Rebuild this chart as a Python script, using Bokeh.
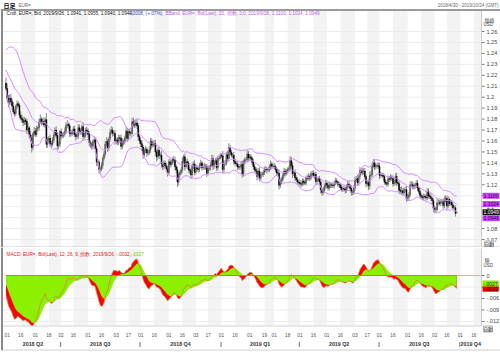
import numpy as np
import pandas as pd
from bokeh.plotting import figure
from bokeh.models import ColumnDataSource, Range1d, Label, BoxAnnotation
from bokeh.core.properties import value
from bokeh.layouts import column
from bokeh.embed import file_html
from bokeh.resources import INLINE

# ---------------- data (EUR= daily, business days) ----------------
warmup_close = [  # 2018-02-26 .. 2018-04-27 (feeds the indicators only)
    1.2320, 1.2230, 1.2195, 1.2270, 1.2315,
    1.2335, 1.2410, 1.2410, 1.2310, 1.2305,
    1.2335, 1.2390, 1.2370, 1.2305, 1.2290,
    1.2335, 1.2240, 1.2345, 1.2300, 1.2350,
    1.2450, 1.2405, 1.2305, 1.2320, 1.2325,
    1.2300, 1.2270, 1.2275, 1.2240, 1.2280,
    1.2320, 1.2355, 1.2370, 1.2325, 1.2330,
    1.2380, 1.2370, 1.2375, 1.2345, 1.2285,
    1.2210, 1.2235, 1.2165, 1.2100, 1.2130,
]
first_date = "2018-04-30"
close = [  # 2018-04-30 .. 2019-09-26, one row per week
    1.2080, 1.1990, 1.1950, 1.1990, 1.1960,
    1.1920, 1.1865, 1.1850, 1.1915, 1.1940,
    1.1925, 1.1835, 1.1810, 1.1795, 1.1770,
    1.1790, 1.1780, 1.1700, 1.1720, 1.1655,
    1.1625, 1.1540, 1.1665, 1.1690, 1.1660,
    1.1715, 1.1720, 1.1775, 1.1800, 1.1770,
    1.1780, 1.1745, 1.1795, 1.1570, 1.1610,
    1.1625, 1.1575, 1.1570, 1.1605, 1.1655,
    1.1700, 1.1650, 1.1555, 1.1570, 1.1685,
    1.1645, 1.1655, 1.1660, 1.1690, 1.1745,
    1.1750, 1.1740, 1.1670, 1.1665, 1.1685,
    1.1710, 1.1660, 1.1640, 1.1645, 1.1720,
    1.1690, 1.1685, 1.1730, 1.1640, 1.1655,
    1.1700, 1.1690, 1.1660, 1.1585, 1.1565,
    1.1550, 1.1595, 1.1610, 1.1530, 1.1410,
    1.1405, 1.1340, 1.1345, 1.1375, 1.1440,
    1.1480, 1.1570, 1.1595, 1.1535, 1.1620,
    1.1680, 1.1700, 1.1670, 1.1670, 1.1600,
    1.1610, 1.1585, 1.1630, 1.1625, 1.1550,
    1.1595, 1.1590, 1.1625, 1.1690, 1.1625,
    1.1685, 1.1675, 1.1670, 1.1775, 1.1750,
    1.1745, 1.1765, 1.1740, 1.1640, 1.1605,
    1.1575, 1.1545, 1.1475, 1.1510, 1.1525,
    1.1490, 1.1490, 1.1520, 1.1595, 1.1560,
    1.1580, 1.1575, 1.1500, 1.1455, 1.1515,
    1.1465, 1.1470, 1.1390, 1.1365, 1.1400,
    1.1370, 1.1345, 1.1310, 1.1410, 1.1385,
    1.1405, 1.1430, 1.1425, 1.1365, 1.1335,
    1.1225, 1.1290, 1.1310, 1.1335, 1.1415,
    1.1455, 1.1365, 1.1410, 1.1400, 1.1340,
    1.1330, 1.1290, 1.1370, 1.1390, 1.1315,
    1.1355, 1.1345, 1.1340, 1.1375, 1.1400,
    1.1355, 1.1365, 1.1370, 1.1365, 1.1305,
    1.1350, 1.1360, 1.1380, 1.1440, 1.1370,
    1.1410, 1.1420, 1.1355, 1.1440, 1.1445,
    1.1470, 1.1465, 1.1340, 1.1395, 1.1395,
    1.1475, 1.1440, 1.1540, 1.1500, 1.1470,
    1.1470, 1.1415, 1.1395, 1.1390, 1.1365,
    1.1360, 1.1365, 1.1385, 1.1300, 1.1410,
    1.1430, 1.1430, 1.1480, 1.1445, 1.1455,
    1.1440, 1.1405, 1.1365, 1.1340, 1.1325,
    1.1275, 1.1325, 1.1260, 1.1295, 1.1295,
    1.1310, 1.1340, 1.1340, 1.1335, 1.1335,
    1.1360, 1.1390, 1.1370, 1.1370, 1.1365,
    1.1340, 1.1310, 1.1305, 1.1195, 1.1235,
    1.1245, 1.1285, 1.1325, 1.1305, 1.1325,
    1.1340, 1.1350, 1.1420, 1.1375, 1.1300,
    1.1310, 1.1265, 1.1245, 1.1225, 1.1220,
    1.1210, 1.1205, 1.1235, 1.1220, 1.1215,
    1.1265, 1.1260, 1.1275, 1.1260, 1.1300,
    1.1305, 1.1285, 1.1295, 1.1230, 1.1245,
    1.1255, 1.1225, 1.1155, 1.1130, 1.1150,
    1.1185, 1.1215, 1.1195, 1.1170, 1.1200,
    1.1200, 1.1195, 1.1190, 1.1215, 1.1235,
    1.1225, 1.1205, 1.1200, 1.1175, 1.1160,
    1.1165, 1.1160, 1.1150, 1.1180, 1.1205,
    1.1190, 1.1165, 1.1130, 1.1130, 1.1170,
    1.1245, 1.1255, 1.1220, 1.1275, 1.1330,
    1.1310, 1.1325, 1.1325, 1.1275, 1.1210,
    1.1220, 1.1190, 1.1285, 1.1290, 1.1370,
    1.1400, 1.1365, 1.1370, 1.1375, 1.1370,
    1.1285, 1.1290, 1.1285, 1.1275, 1.1225,
    1.1215, 1.1205, 1.1255, 1.1250, 1.1270,
    1.1260, 1.1210, 1.1225, 1.1275, 1.1220,
    1.1210, 1.1150, 1.1140, 1.1145, 1.1125,
    1.1155, 1.1155, 1.1075, 1.1085, 1.1110,
    1.1200, 1.1200, 1.1190, 1.1180, 1.1200,
    1.1215, 1.1170, 1.1140, 1.1105, 1.1090,
    1.1080, 1.1095, 1.1090, 1.1080, 1.1140,
    1.1100, 1.1090, 1.1075, 1.1055, 1.0985,
    1.0970, 1.0975, 1.1035, 1.1035, 1.1030,
    1.1045, 1.1045, 1.1010, 1.1060, 1.1075,
    1.1005, 1.1065, 1.1030, 1.1040, 1.1015,
    1.0990, 1.0990, 1.0940, 1.0949,
]
last_open = 1.0941
hi_pips = [  # high above max(open, close), in pips
    50, 45, 30, 35, 40,  30, 35, 25, 20, 30,  25, 20, 35, 30, 25,  30, 20, 25, 40, 20,
    35, 30, 15, 40, 30,  25, 20, 30, 45, 20,  30, 35, 20, 60, 25,  20, 35, 25, 30, 20,
    25, 35, 30, 25, 15,  30, 25, 20, 35, 25,  40, 20, 25, 30, 20,  25, 30, 20, 25, 35,
    30, 25, 20, 40, 25,  20, 30, 25, 30, 20,  25, 20, 35, 20, 25,  30, 25, 20, 30, 20,
    25, 30, 40, 25, 20,  30, 35, 25, 20, 30,  20, 25, 30, 25, 35,  30, 20, 25, 40, 30,
    25, 30, 20, 35, 40,  45, 30, 35, 25, 20,  25, 30, 20, 25, 30,  20, 25, 30, 35, 30,
    25, 30, 35, 20, 25,  30, 25, 40, 20, 25,  20, 25, 30, 25, 30,  25, 20, 35, 30, 20,
    30, 25, 20, 25, 35,  20, 30, 25, 30, 20,  25, 20, 30, 25, 35,  30, 25, 20, 25, 30,
    20, 25, 30, 20, 25,  25, 20, 25, 35, 30,  15, 20, 30, 25, 20,  20, 15, 45, 25, 30,
    25, 30, 40, 25, 20,  20, 30, 25, 20, 25,  25, 20, 30, 35, 20,  20, 25, 35, 30, 25,
    25, 20, 30, 25, 20,  30, 25, 35, 20, 25,  20, 25, 30, 25, 20,  25, 30, 20, 25, 30,
    20, 25, 30, 35, 25,  25, 20, 30, 25, 20,  20, 25, 40, 35, 30,  25, 30, 20, 25, 20,
    30, 20, 25, 20, 25,  20, 25, 30, 20, 25,  25, 30, 20, 25, 15,  20, 25, 30, 20, 25,
    25, 30, 25, 35, 30,  20, 25, 20, 25, 30,  25, 20, 25, 20, 25,  20, 25, 20, 25, 30,
    25, 20, 30, 20, 25,  30, 25, 35, 30, 35,  25, 30, 25, 30, 20,  25, 30, 35, 40, 30,
    35, 25, 20, 25, 30,  30, 25, 20, 25, 20,  25, 20, 30, 25, 25,  20, 25, 20, 30, 35,
    20, 25, 30, 40, 25,  20, 25, 35, 30, 25,  30, 35, 30, 25, 20,  25, 30, 20, 25, 20,
    20, 25, 20, 25, 30,  25, 20, 25, 20, 25,  20, 25, 35, 30, 25,  25, 20, 30, 35, 30,
    25, 30, 20, 25, 20,  20, 25, 20, 6,
]
lo_pips = [  # low below min(open, close), in pips
    20, 30, 40, 25, 30,  35, 25, 30, 20, 25,  20, 30, 25, 30, 35,  25, 30, 35, 20, 30,
    30, 45, 25, 20, 25,  20, 25, 30, 20, 30,  25, 20, 30, 35, 30,  30, 25, 35, 20, 25,
    20, 25, 35, 30, 25,  30, 20, 25, 20, 25,  25, 30, 35, 25, 20,  30, 25, 35, 20, 25,
    20, 30, 25, 35, 20,  25, 20, 30, 35, 30,  30, 25, 20, 35, 40,  35, 40, 25, 20, 30,
    20, 25, 20, 35, 25,  25, 20, 30, 25, 35,  30, 25, 20, 35, 30,  25, 30, 20, 25, 35,
    20, 25, 30, 20, 25,  25, 20, 30, 40, 30,  30, 35, 40, 25, 20,  35, 25, 20, 25, 30,
    20, 25, 35, 40, 25,  30, 25, 35, 30, 25,  25, 30, 35, 20, 30,  20, 25, 30, 35, 30,
    45, 30, 25, 20, 25,  25, 35, 20, 25, 30,  30, 35, 20, 25, 30,  20, 25, 30, 25, 20,
    25, 20, 25, 30, 35,  20, 25, 30, 20, 35,  25, 20, 30, 25, 20,  15, 20, 40, 25, 20,
    20, 25, 20, 30, 25,  25, 30, 20, 25, 30,  20, 25, 20, 35, 25,  25, 20, 25, 30, 20,
    20, 25, 30, 25, 30,  35, 25, 30, 25, 20,  25, 20, 25, 30, 20,  20, 25, 30, 20, 25,
    25, 30, 20, 40, 25,  30, 20, 25, 30, 20,  25, 20, 25, 30, 40,  20, 30, 25, 20, 25,
    25, 30, 20, 25, 20,  20, 25, 20, 25, 20,  25, 20, 30, 35, 25,  20, 30, 35, 30, 25,
    25, 20, 30, 25, 20,  30, 25, 20, 25, 20,  20, 25, 30, 25, 20,  25, 20, 30, 25, 20,
    20, 25, 30, 25, 20,  25, 20, 25, 30, 25,  20, 25, 30, 25, 35,  25, 40, 30, 25, 20,
    20, 30, 25, 20, 25,  35, 25, 20, 30, 25,  20, 25, 20, 25, 20,  25, 30, 20, 25, 30,
    20, 35, 25, 30, 25,  25, 20, 30, 25, 30,  20, 25, 30, 25, 20,  25, 30, 25, 30, 25,
    20, 25, 20, 25, 20,  25, 20, 25, 30, 35,  30, 25, 20, 25, 20,  25, 20, 30, 25, 20,
    35, 20, 25, 20, 25,  25, 20, 30, 0,
]
tick_dates = [
    "2018-05-01", "2018-05-16", "2018-06-01", "2018-06-18", "2018-07-02", "2018-07-16",
    "2018-08-01", "2018-08-16", "2018-09-03", "2018-09-17", "2018-10-01", "2018-10-16",
    "2018-11-01", "2018-11-16", "2018-12-03", "2018-12-17", "2019-01-01", "2019-01-16",
    "2019-02-01", "2019-02-19", "2019-03-01", "2019-03-18", "2019-04-01", "2019-04-16",
    "2019-05-01", "2019-05-16", "2019-06-03", "2019-06-17", "2019-07-01", "2019-07-16",
    "2019-08-01", "2019-08-16", "2019-09-02", "2019-09-16", "2019-10-01", "2019-10-16",
]
quarter_names = ["2018 Q2", "2018 Q3", "2018 Q4", "2019 Q1", "2019 Q2", "2019 Q3", "2019 Q4"]
quarter_starts = ["2018-04-01", "2018-07-01", "2018-10-01", "2019-01-01",
                  "2019-04-01", "2019-07-01", "2019-10-01", "2020-01-01"]
view_end = "2019-10-24"
price_ticks = [1.07, 1.08, 1.09, 1.10, 1.11, 1.12, 1.13, 1.14, 1.15, 1.16,
               1.17, 1.18, 1.19, 1.20, 1.21, 1.22, 1.23, 1.24, 1.25, 1.26]
price_tick_labels = ["1.07", "1.08", "1.09", "1.1", "1.11", "1.12", "1.13", "1.14", "1.15",
                     "1.16", "1.17", "1.18", "1.19", "1.2", "1.21", "1.22", "1.23", "1.24",
                     "1.25", "1.26"]
macd_ticks = [0.0, -0.003, -0.006, -0.009, -0.012]
macd_tick_labels = ["0", "-.003", "-.006", "-.009", "-.012"]
bb_last = [1.1100, 1.1024, 1.0949]
bb_last_txt = ["1.1100", "1.1024", "1.0949"]
close_last_txt = "1.0949"
macd_last_txt = "-.0032"
signal_last_txt = "-.0027"

# ---------------- indicators ----------------
n_w = len(warmup_close)
allc = pd.Series(warmup_close + close, dtype=float)
ema12 = allc.ewm(span=12, adjust=False).mean()
ema26 = allc.ewm(span=26, adjust=False).mean()
macd_all = ema12 - ema26
sig_all = macd_all.ewm(span=9, adjust=False).mean()
mid_all = allc.ewm(span=20, adjust=False).mean()
sd_all = allc.rolling(20).std(ddof=0)

c = np.array(close)
o = np.array([warmup_close[-1]] + close[:-1])
o[-1] = last_open
hi = np.maximum(o, c) + np.array(hi_pips) / 10000.0
lo = np.minimum(o, c) - np.array(lo_pips) / 10000.0
idx = np.arange(len(close))
up = c >= o

# ---------------- layout geometry (pixels of the 500x352 page) ----------------
W, H = 500, 352
X0, SX = 5.48, 1.2247          # pixel of the first trading day, pixels per trading day
L_PX, R_PX = 2, 481            # plot area left / right
P1_TOP, P1_BOT = 10, 247       # price panel
P2_TOP, P2_BOT = 248, 325      # MACD panel
Y1_AT_TOP, Y1_SCALE = 1.2792, 1094.7        # price at P1_TOP, px per unit
Y2_AT_TOP, Y2_SPAN = 0.00706, 0.02012       # macd at P2_TOP, units over panel

def fx(px):
    return (px - X0) / SX

def fy1(py):
    return Y1_AT_TOP - (py - P1_TOP) / Y1_SCALE

def fy2(py):
    return Y2_AT_TOP - (py - P2_TOP) * Y2_SPAN / (P2_BOT - P2_TOP)

x_rng = Range1d(fx(0), fx(W))
FONT = "Liberation Sans"
JP = "Noto Sans CJK JP"

macd_v = macd_all.values[n_w:]
sig_v = sig_all.values[n_w:]
src = ColumnDataSource(dict(
    x=idx, o=o, c=c, hi=hi, lo=lo,
    top=np.maximum(o, c), bot=np.minimum(o, c),
    col=np.where(up, "#5a5a5a", "#000000"),
    mid=mid_all.values[n_w:],
    bu=(mid_all + 2 * sd_all).values[n_w:],
    bl=(mid_all - 2 * sd_all).values[n_w:],
    macd=np.clip(macd_v, fy2(P2_BOT), fy2(P2_TOP)),
    sig=np.clip(sig_v, fy2(P2_BOT), fy2(P2_TOP)),
))

all_days = pd.bdate_range("2018-01-01", "2020-01-31")
day0 = all_days.get_loc(pd.Timestamp(first_date))
def day_idx(d):
    return int(all_days.searchsorted(pd.Timestamp(d))) - day0

tick_idx = [day_idx(d) for d in tick_dates]
tick_txt = [d[-2:] for d in tick_dates]
end_idx = day_idx(view_end)

q_x, q_txt = [], []
for k, name in enumerate(quarter_names):
    a = max(day_idx(quarter_starts[k]), 0)
    b = min(day_idx(quarter_starts[k + 1]) - 1, end_idx)
    q_x.append((a + b) / 2.0)
    q_txt.append(name)
    if k > 0:
        q_x.append(a - 0.5)
        q_txt.append("|")


def add_text(p, canvas_h, cx, cy, text, size="5px", color="#333333", align="left",
             bold=False, bg=None, border=None, font=FONT, pad=0):
    lab = Label(x=cx, y=canvas_h - cy, x_units="screen", y_units="screen",
                text=text, text_font=font, text_font_size=size, text_color=color,
                text_align=align, text_baseline="middle",
                text_font_style="bold" if bold else "normal")
    if bg is not None:
        lab.background_fill_color = bg
        lab.padding = int(pad)
    if border is not None:
        lab.border_line_color = border
        lab.border_line_width = 0.7
    p.add_layout(lab)


def stripes(p, top, bottom):
    edges = tick_idx + [fx(R_PX)]
    for k in range(len(edges) - 1):
        if k % 2 == 1:
            p.add_layout(BoxAnnotation(left=edges[k], right=edges[k + 1], top=top,
                                       bottom=bottom, fill_color="#f3f3f3", fill_alpha=1.0,
                                       line_alpha=0, level="image"))


def gtext(p, x, y, text, size, color, align="left", bold=False, font=FONT):
    p.text(x=x, y=y, text=text, text_font=value(font), text_font_size=size,
           text_color=color, text_align=align, text_baseline="middle",
           text_font_style="bold" if bold else "normal")


def base_fig(h, yr):
    p = figure(width=W, height=h, x_range=x_rng, y_range=yr, output_backend="svg",
               toolbar_location=None, title=None, x_axis_location=None,
               y_axis_location=None, min_border_left=0, min_border_right=0,
               min_border_top=0, min_border_bottom=0)
    p.outline_line_color = None
    p.xgrid.visible = False
    p.ygrid.visible = False
    p.background_fill_color = "white"
    return p

# ---------------- price panel ----------------
H1 = P1_BOT
p1 = base_fig(H1, Range1d(fy1(H1), fy1(0)))
stripes(p1, fy1(P1_TOP), fy1(P1_BOT))
# grid + price scale on the right
p1.segment(x0=fx(L_PX), x1=fx(R_PX), y0=price_ticks, y1=price_ticks,
           line_color="#ececec", line_width=1)
p1.segment(x0=fx(R_PX), x1=fx(R_PX + 3), y0=price_ticks, y1=price_ticks,
           line_color="#777777", line_width=1)
gtext(p1, [fx(R_PX + 5)] * len(price_ticks), price_ticks, price_tick_labels, "5.5px", "#444444")
# frame lines
p1.segment(x0=[fx(R_PX)], x1=[fx(R_PX)], y0=[fy1(P1_TOP)], y1=[fy1(P1_BOT)],
           line_color="#cccccc", line_width=1)
p1.segment(x0=[fx(0)], x1=[fx(W)], y0=[fy1(P1_TOP - 0.5)], y1=[fy1(P1_TOP - 0.5)],
           line_color="#9a9a9a", line_width=2)
p1.segment(x0=[fx(0)], x1=[fx(W)], y0=[fy1(P1_BOT - 0.5)], y1=[fy1(P1_BOT - 0.5)],
           line_color="#c8c8c8", line_width=1)
p1.segment(x0=[fx(1.5)], x1=[fx(1.5)], y0=[fy1(P1_TOP)], y1=[fy1(H1)],
           line_color="#8a8a8a", line_width=2)

# candles + Bollinger (EMA 20, 2.0)
p1.segment(x0="x", y0="lo", x1="x", y1="hi", source=src, line_color="#8c8c8c", line_width=1)
p1.vbar(x="x", bottom="bot", top="top", width=0.8, source=src,
        fill_color="col", line_color="col", line_width=0.5)
for key in ("bu", "mid", "bl"):
    p1.line(x="x", y=key, source=src, line_color="#d68bff", line_width=1)

# header + title
add_text(p1, H1, 3, 4.5, "日足", size="6px", color="#111111", bold=True, font=JP)
add_text(p1, H1, 18, 4.8, "EUR=", size="4.5px", color="#666666")
add_text(p1, H1, 498, 4.5, "2018/4/30 - 2019/10/24 (GMT)", size="4.5px",
         color="#666666", align="right")
add_text(p1, H1, 6, 12.5,
         "Cndl, EUR=, Bid, 2019/9/26, 1.0941, 1.0955, 1.0940, 1.0949,", size="4.7px",
         color="#222222")
add_text(p1, H1, 128, 12.5, "+.0008, (+.07%),", size="4.7px", color="#3a48d0")
add_text(p1, H1, 165, 12.5,
         "BBand, EUR=, Bid(Last), 20, 指数, 2.0, 2019/9/26, 1.1100, 1.1024, 1.0949",
         size="4.7px", color="#c060e8")
add_text(p1, H1, 484, 18.5, "価格", size="5px", color="#444444", font=JP)
add_text(p1, H1, 483, 24.2, "USD", size="4.5px", color="#444444")

def cy1(v):
    return P1_TOP + (Y1_AT_TOP - v) * Y1_SCALE

add_text(p1, H1, 482, cy1(bb_last[0]), bb_last_txt[0], size="5px",
         color="#2a0033", bg="#cc44ff", pad=1)
add_text(p1, H1, 482, cy1(bb_last[1]), bb_last_txt[1], size="5px",
         color="#2a0033", bg="#cc44ff", pad=1)
add_text(p1, H1, 482, cy1(close[-1]), close_last_txt, size="5px",
         color="#ffffff", bg="#111111", pad=1)
add_text(p1, H1, 482, cy1(bb_last[2]) + 6, bb_last_txt[2], size="5px",
         color="#2a0033", bg="#cc44ff", pad=1)
add_text(p1, H1, 484, 243.5, "自動", size="4.5px", color="#333333",
         bg="#eeeeee", border="#999999", font=JP, pad=0)

# ---------------- MACD panel + date axis ----------------
H2 = H - P1_BOT
def g2(py):  # page pixel -> macd units (p2 canvas starts at page y = P1_BOT)
    return fy2(py)
p2 = base_fig(H2, Range1d(fy2(H), fy2(P1_BOT)))
stripes(p2, fy2(P2_TOP), fy2(P2_BOT))
p2.segment(x0=fx(L_PX), x1=fx(R_PX), y0=macd_ticks, y1=macd_ticks,
           line_color="#ececec", line_width=1)
p2.segment(x0=fx(R_PX), x1=fx(R_PX + 3), y0=macd_ticks, y1=macd_ticks,
           line_color="#777777", line_width=1)
gtext(p2, [fx(R_PX + 5)] * len(macd_ticks), macd_ticks, macd_tick_labels, "5.5px", "#444444")
p2.segment(x0=[fx(R_PX)], x1=[fx(R_PX)], y0=[fy2(P2_TOP)], y1=[fy2(P2_BOT)],
           line_color="#cccccc", line_width=1)
p2.segment(x0=[fx(L_PX)], x1=[fx(R_PX)], y0=[fy2(P2_BOT + 0.5)], y1=[fy2(P2_BOT + 0.5)],
           line_color="#d0d0d0", line_width=1)
p2.segment(x0=[fx(0)], x1=[fx(W)], y0=[fy2(H - 2.5)], y1=[fy2(H - 2.5)],
           line_color="#d0d0d0", line_width=1)
p2.segment(x0=[fx(1.5)], x1=[fx(1.5)], y0=[fy2(P1_BOT)], y1=[fy2(H - 2.5)],
           line_color="#8a8a8a", line_width=2)
# zero line: pink beyond the data, brown over it
p2.segment(x0=[idx[-1]], x1=[fx(R_PX)], y0=[0], y1=[0], line_color="#ff9f9f", line_width=1)
p2.varea(x="x", y1=0, y2="macd", source=src, fill_color="#ff0000")
p2.varea(x="x", y1=0, y2="sig", source=src, fill_color="#8cf000")
p2.segment(x0=[idx[0]], x1=[idx[-1]], y0=[0], y1=[0], line_color="#cc7a3c", line_width=1)
p2.line(x="x", y="macd", source=src, line_color="#d0803c", line_width=0.8)

# date axis rows
gtext(p2, tick_idx, [fy2(334)] * len(tick_idx), tick_txt, "4.8px", "#555555", align="center")
gtext(p2, q_x, [fy2(343.5)] * len(q_x), q_txt, "5.3px", "#333333", align="center", bold=True)

def t2(cx, cy, text, **kw):
    add_text(p2, H2, cx, cy - P1_BOT, text, **kw)

t2(6, 253.5, "MACD, EUR=, Bid(Last), 12, 26, 9, 指数, 2019/9/26, -.0032,", size="4.7px",
   color="#e02020")
t2(130, 253.5, signal_last_txt, size="4.7px", color="#70d000")
t2(484, 258.5, "値", size="5px", color="#444444", font=JP)
t2(483, 265, "USD", size="4.5px", color="#444444")
def cy2(v):
    return P2_TOP + (Y2_AT_TOP - v) / Y2_SPAN * (P2_BOT - P2_TOP)
red_y = cy2(float(macd_v[-1])) + 0.5
t2(482, red_y, macd_last_txt, size="5px", color="#330000", bg="#ff0000", pad=1)
t2(482, red_y - 5.2, signal_last_txt, size="5px", color="#1a3300", bg="#8cf000", pad=1)
t2(483, 328.5, "自動", size="4.5px", color="#333333", bg="#eeeeee", border="#999999",
   font=JP, pad=0)

layout = column(p1, p2, spacing=0)
open("out.html", "w").write(file_html(layout, INLINE))
